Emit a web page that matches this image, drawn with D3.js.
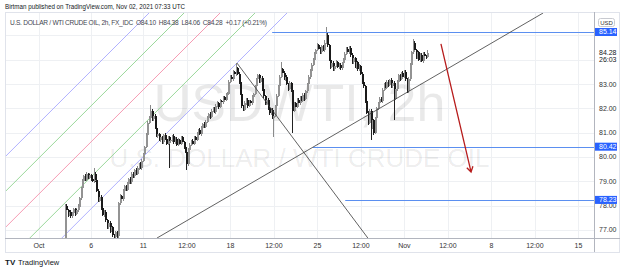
<!DOCTYPE html>
<html><head><meta charset="utf-8">
<script src="https://cdn.jsdelivr.net/npm/d3@7"></script>
<style>body{margin:0;background:#fff;overflow:hidden}svg{display:block;font-family:"Liberation Sans",Arial,sans-serif}</style>
</head><body><svg id="c" width="625" height="271"></svg>
<script>
// ---------- data ----------
const closes=[78.00,77.80,77.60,77.75,77.55,77.70,77.85,77.65,77.80,77.95,
78.30,78.70,79.00,79.20,79.05,79.30,79.15,79.25,79.10,79.00,
79.30,79.05,78.60,78.20,78.35,77.90,77.60,77.75,77.40,77.10,
77.30,76.95,77.10,76.80,76.70,76.90,76.75,78.10,78.40,78.25,
78.60,78.80,78.65,78.90,79.10,78.95,79.30,79.20,79.45,79.30,
79.55,79.70,79.55,79.85,80.10,80.40,80.90,81.40,81.60,81.90,
81.55,81.70,81.20,80.85,80.95,80.70,80.80,80.60,80.90,80.75,
80.55,80.80,80.65,80.70,80.85,80.60,80.75,80.50,80.70,80.55,
80.80,80.60,80.40,80.20,79.70,80.30,80.50,80.65,80.55,80.80,
80.70,80.95,81.10,80.95,81.20,81.35,81.25,81.45,81.60,81.75,
81.65,81.90,82.00,81.85,82.10,82.20,82.05,82.30,82.25,82.45,
82.35,82.55,82.60,83.10,83.30,83.20,83.50,83.40,83.65,83.40,
83.10,82.60,82.10,81.95,82.20,82.35,82.10,82.30,82.20,82.45,
82.60,82.90,83.20,83.35,83.10,83.25,82.80,82.50,82.20,82.35,
82.00,81.80,81.95,81.60,81.70,82.10,82.50,82.90,83.30,83.60,
83.45,83.20,83.30,83.00,82.80,83.05,82.75,81.90,82.20,82.05,
82.35,82.20,82.45,82.30,82.55,82.40,82.70,83.00,83.30,83.55,
83.80,84.00,84.25,84.40,84.60,84.45,84.30,84.55,84.40,84.70,
85.00,84.60,84.00,83.70,83.85,83.60,83.75,83.90,83.70,83.80,
83.65,83.85,84.00,84.25,84.45,84.30,84.50,84.20,83.90,84.05,
83.70,83.90,83.60,83.75,83.40,83.10,82.90,82.30,81.80,81.40,
81.90,81.20,81.50,81.00,81.60,82.00,82.20,82.40,82.30,82.75,
83.00,82.85,83.10,82.95,83.15,82.90,83.05,82.40,82.80,83.10,
83.35,83.20,83.45,83.30,83.50,83.20,82.70,83.20,83.80,84.30,
84.70,84.40,84.10,84.30,84.00,84.20,83.95,84.25,84.15,84.10,
84.28];
// upper / lower wick beyond the body, in cents
const wickUp=[5,8,6,4,7,5,6,4,8,10, 6,5,8,6,10,7,5,9,6,8, 25,6,5,8,4,7,5,6,8,4, 6,8,5,7,4,6,5,6,8,5,
7,5,6,8,5,9,6,7,5,8, 6,5,8,6,7,5,8,6,7,24, 6,5,8,7,6,5,8,6,5,7, 8,6,5,7,6,8,5,7,6,5,
7,6,5,8,6,5,7,6,8,5, 6,8,5,7,6,5,8,6,7,5, 8,6,5,7,6,8,5,7,6,5, 7,6,8,5,7,6,8,5,21,6,
8,6,7,5,8,6,7,5,6,8, 5,7,6,8,5,7,6,8,5,7, 6,8,5,7,6,5,8,6,7,30, 6,8,5,7,6,8,5,7,6,5,
8,6,7,5,8,6,7,5,8,6, 7,5,8,6,7,5,8,6,7,10, 35,8,6,7,5,8,6,7,5,8, 6,7,5,8,6,7,5,8,6,7,
5,8,6,7,5,8,6,7,5,8, 6,7,5,8,6,7,5,8,6,7, 5,8,6,7,5,8,6,7,5,8, 6,7,5,8,6,7,5,8,6,7,
15,8,6,7,5,8,6,7,5,6, 10];
const wickDn=[15,6,8,5,7,6,5,8,6,5, 7,6,5,8,6,5,7,6,8,5, 6,8,5,7,6,8,5,7,6,8, 5,7,6,8,20,6,30,25,6,7,
8,5,7,6,8,5,7,6,8,5, 6,8,5,7,6,8,5,7,6,5, 8,6,7,5,8,6,7,5,8,6, 7,5,110,6,7,5,8,6,7,5,
8,6,7,5,25,6,7,5,8,6, 7,5,8,6,7,5,8,6,7,5, 8,6,7,5,8,6,7,5,8,6, 7,5,8,6,7,5,8,6,7,5,
8,6,7,5,8,6,7,5,8,6, 7,5,8,6,7,5,8,6,7,5, 8,6,7,5,78,6,7,5,8,6, 7,5,8,6,7,5,8,90,6,7,
5,8,6,7,5,8,6,7,5,8, 6,7,5,8,6,7,5,8,6,7, 5,8,6,7,5,8,6,7,5,8, 6,7,5,8,6,7,5,8,6,7,
5,8,6,7,5,8,6,7,5,8, 6,50,5,8,6,7,5,8,6,7, 5,8,6,7,5,8,6,90,5,8, 6,7,5,8,6,7,5,8,6,7,
5,8,6,7,5,8,6,7,5,8, 4];
const firstOpen=76.55;
const firstBarDay=1.5;          // trading-day index of first 2h bar (Oct 4 12:00)
const barsPerDay=12;
const priceTicks=[77,78,79,80,81,82,83,84,85];
const hiddenTicks=[84,85];       // covered by the value labels on the price scale
const timeTickDays=[0,3,6,8.5,11,13.5,16,18.5,21,23.5,26,28.5,31];
const timeTickLabels=["Oct","6","11","12:00","18","12:00","25","12:00","Nov","12:00","8","12:00","15"];
const levelPrices=[85.14,80.42,78.23];
const levelStartDays=[13.4,15.75,17.6];
const channelColors=["#a8a8ff","#8fd48f","#f590aa","#8fd48f","#a8a8ff"];
const channelStart=[[-6.76,76.56],[-4.75,76.56],[-2.68,76.56],[-0.67,76.56],[1.17,76.56]];
const channelEnd=[[6.74,86.22],[8.75,86.22],[10.82,86.22],[12.83,86.22],[14.67,86.22]];
const trendLines=[[[11.38,83.86],[18.9,76.66]],[[6.78,76.66],[28.97,85.92]]];
const arrowLine=[[23.1,84.65],[24.83,79.38]];
const lastPrice=84.28, countdown="26:03";
const headerText="Birtman published on TradingView.com, Nov 02, 2021 07:33 UTC";
const legendText="U.S. DOLLAR / WTI CRUDE OIL, 2h, FX_IDC  O84.10  H84.38  L84.06  C84.28  +0.17 (+0.21%)";

// ---------- layout ----------
const svg=d3.select("#c");
const L=5,R=594,T=12,B=238,AXB=252;
const x=d3.scaleLinear().domain([0,31]).range([39,578.4]);
const y=d3.scaleLinear().domain([77,85]).range([229.8,35.4]);
const barDay=i=>firstBarDay+i/barsPerDay;

svg.append("rect").attr("width",625).attr("height",271).attr("fill","#fff");
svg.append("defs").append("clipPath").attr("id","pane").append("rect")
  .attr("x",L).attr("y",T).attr("width",R-L).attr("height",B-T);

// grid
const grid=svg.append("g").attr("stroke","#eef0f3").attr("stroke-width",1);
grid.selectAll("line.h").data(priceTicks).join("line")
  .attr("x1",L).attr("x2",R).attr("y1",d=>Math.round(y(d))+0.5).attr("y2",d=>Math.round(y(d))+0.5);
grid.selectAll("line.v").data(timeTickDays).join("line")
  .attr("y1",T).attr("y2",B).attr("x1",d=>Math.round(x(d))+0.5).attr("x2",d=>Math.round(x(d))+0.5);

// watermark
const wm=svg.append("g").attr("fill","#000").attr("fill-opacity",0.085).attr("text-anchor","middle");
wm.append("text").attr("x",(L+R)/2).attr("y",121).attr("font-size",52).text("USDWTI, 2h");
wm.append("text").attr("x",(L+R)/2).attr("y",167).attr("font-size",26).text("U.S. DOLLAR / WTI CRUDE OIL");

const pane=svg.append("g").attr("clip-path","url(#pane)");
// channel lines
pane.selectAll("line.ch").data(channelStart).join("line")
  .attr("x1",d=>x(d[0])).attr("y1",d=>y(d[1]))
  .attr("x2",(d,i)=>x(channelEnd[i][0])).attr("y2",(d,i)=>y(channelEnd[i][1]))
  .attr("stroke",(d,i)=>channelColors[i]).attr("stroke-width",0.9);

// candles
const bars=closes.map((c,i)=>{const o=i?closes[i-1]:firstOpen;
  return {i,o,c,h:Math.max(o,c)+wickUp[i]/100,l:Math.min(o,c)-wickDn[i]/100};});
const cg=pane.append("g").attr("shape-rendering","crispEdges");
cg.selectAll("rect.w").data(bars).join("rect")
  .attr("x",d=>Math.floor(x(barDay(d.i)))).attr("width",1)
  .attr("y",d=>y(d.h)).attr("height",d=>Math.max(1,y(d.l)-y(d.h)))
  .attr("fill",d=>d.c>=d.o?"#8a8a8a":"#222");
cg.selectAll("rect.b").data(bars).join("rect")
  .attr("x",d=>Math.floor(x(barDay(d.i)))).attr("width",1.6)
  .attr("y",d=>y(Math.max(d.o,d.c))).attr("height",d=>Math.max(1,Math.abs(y(d.o)-y(d.c))))
  .attr("fill",d=>d.c>=d.o?"#939393":"#1a1a1a");

// horizontal levels
pane.selectAll("line.lv").data(levelPrices).join("line")
  .attr("x1",(d,i)=>x(levelStartDays[i])).attr("x2",R)
  .attr("y1",d=>Math.round(y(d))+0.5).attr("y2",d=>Math.round(y(d))+0.5)
  .attr("stroke","#5b8ff0").attr("stroke-width",1);
// trend lines
pane.selectAll("line.tl").data(trendLines).join("line")
  .attr("x1",d=>x(d[0][0])).attr("y1",d=>y(d[0][1])).attr("x2",d=>x(d[1][0])).attr("y2",d=>y(d[1][1]))
  .attr("stroke","#3a3a3a").attr("stroke-width",0.8);
// red arrow
const ax1=x(arrowLine[0][0]),ay1=y(arrowLine[0][1]),ax2=x(arrowLine[1][0]),ay2=y(arrowLine[1][1]);
const ang=Math.atan2(ay2-ay1,ax2-ax1),hl=6,ha=0.55;
pane.append("path").attr("fill","none").attr("stroke","#b71c1c").attr("stroke-width",1.3)
  .attr("d",`M${ax1},${ay1}L${ax2},${ay2}M${ax2-hl*Math.cos(ang-ha)},${ay2-hl*Math.sin(ang-ha)}L${ax2},${ay2}L${ax2-hl*Math.cos(ang+ha)},${ay2-hl*Math.sin(ang+ha)}`);

// frame & axes
svg.append("rect").attr("x",L+0.5).attr("y",T+0.5).attr("width",619-L).attr("height",AXB-T)
  .attr("fill","none").attr("stroke","#e0e3eb");
svg.append("line").attr("x1",L).attr("x2",620).attr("y1",B+0.5).attr("y2",B+0.5).attr("stroke","#b2b5be");
svg.append("line").attr("x1",R+0.5).attr("x2",R+0.5).attr("y1",T).attr("y2",AXB).attr("stroke","#b2b5be");

// price axis labels
const pa=svg.append("g").attr("font-size",7).attr("fill","#333");
pa.selectAll("text").data(priceTicks.filter(p=>!hiddenTicks.includes(p))).join("text")
  .attr("x",599).attr("y",d=>y(d)+2.5).text(d=>d.toFixed(2));
// level labels
const ll=svg.append("g");
levelPrices.forEach(p=>{
  ll.append("rect").attr("x",R+1).attr("y",y(p)-4).attr("width",22).attr("height",8).attr("fill","#2962ff");
  ll.append("text").attr("x",599).attr("y",y(p)+2.5).attr("font-size",7).attr("fill","#fff").text(p.toFixed(2));
});
// last price label
ll.append("text").attr("x",599).attr("y",y(lastPrice)+2.5).attr("font-size",7).attr("fill","#131722").text(lastPrice.toFixed(2));
ll.append("text").attr("x",599).attr("y",y(lastPrice)+9.5).attr("font-size",7).attr("fill","#131722").text(countdown);
// USD box
svg.append("rect").attr("x",598.5).attr("y",18.5).attr("width",16).attr("height",8).attr("rx",2)
  .attr("fill","#fff").attr("stroke","#c8cad0");
svg.append("text").attr("x",606.5).attr("y",24.8).attr("font-size",6).attr("text-anchor","middle").attr("fill","#333").text("USD");

// time axis
svg.append("g").attr("font-size",7).attr("fill","#333").attr("text-anchor","middle")
  .selectAll("text").data(timeTickDays).join("text")
  .attr("x",d=>x(d)).attr("y",247.5).text((d,i)=>timeTickLabels[i]);

// header
svg.append("text").attr("x",5).attr("y",8.5).attr("font-size",6.5).attr("fill","#131722")
  .attr("textLength",180).attr("lengthAdjust","spacingAndGlyphs").text(headerText);
svg.append("text").attr("x",10).attr("y",24.5).attr("font-size",6.6).attr("fill","#434651")
  .attr("textLength",257).attr("lengthAdjust","spacing").attr("xml:space","preserve")
  .style("white-space","pre").text(legendText);

// footer logo
const ft=svg.append("g");
ft.append("text").attr("x",5).attr("y",265).attr("font-size",8).attr("font-weight",900).attr("fill","#131722").text("TV");
ft.append("text").attr("x",18).attr("y",265).attr("font-size",7.5).attr("fill","#131722").text("TradingView");
</script></body></html>
